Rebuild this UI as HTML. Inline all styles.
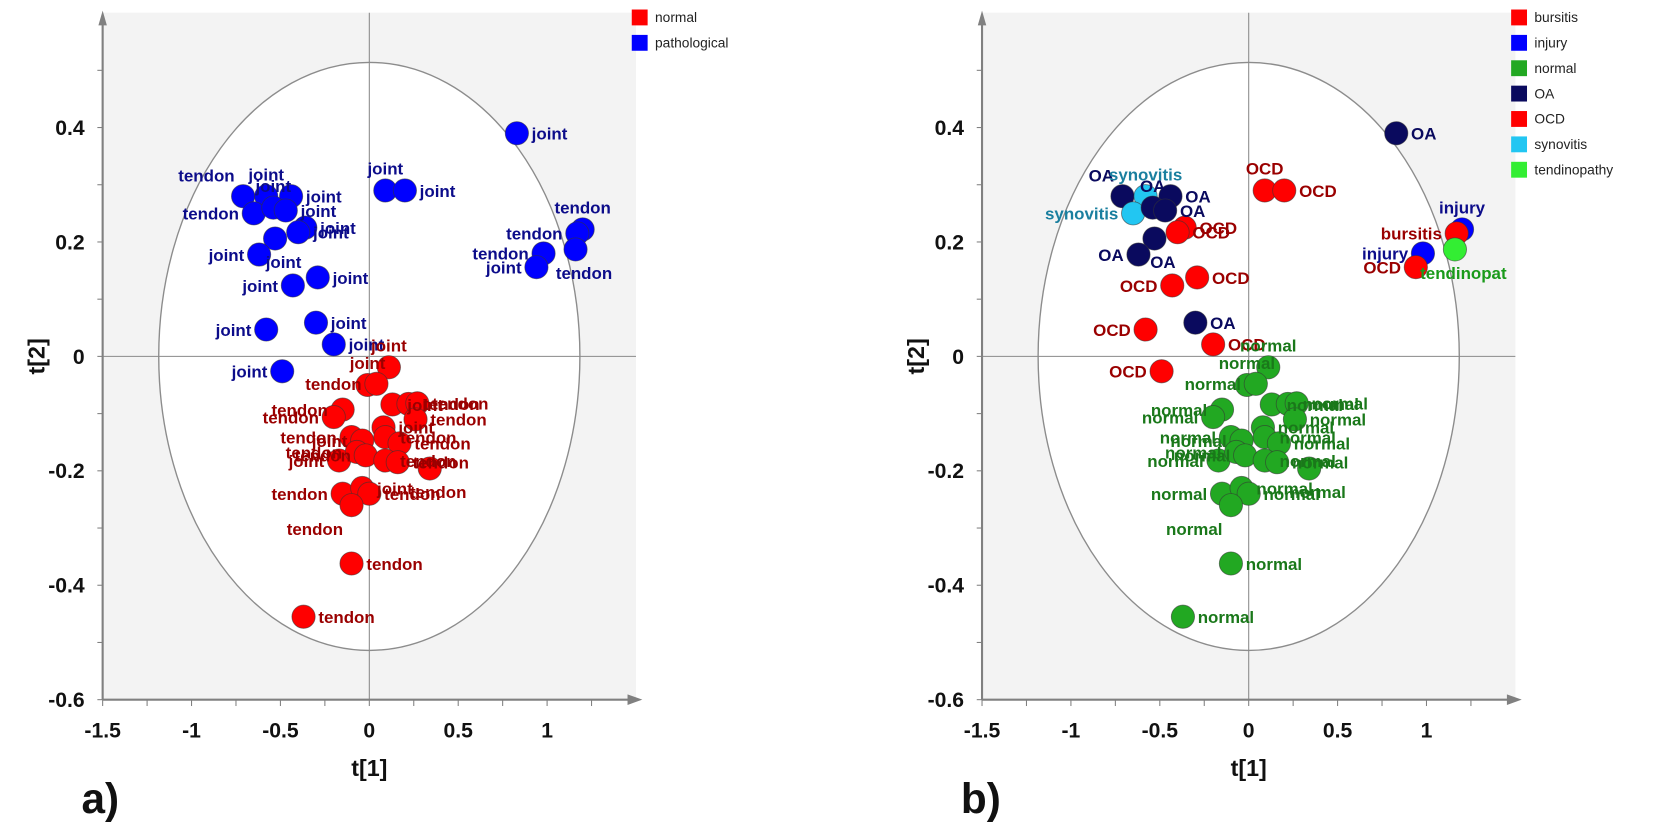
<!DOCTYPE html>
<html><head><meta charset="utf-8"><style>
html,body{margin:0;padding:0;background:#fff;}
svg{display:block;font-family:"Liberation Sans",sans-serif;}
</style></head><body>
<svg id="fig" width="1654" height="827" viewBox="0 0 1563 782" preserveAspectRatio="none"></svg>
<script>
// shared scores (t[1], t[2])
const t1 = [0.83,0.09,0.20,-0.71,-0.58,-0.44,-0.65,-0.54,-0.47,-0.36,-0.40,-0.53,-0.62,-0.29,-0.43,-0.30,-0.58,-0.20,1.20,1.17,1.16,0.98,0.94,-0.49,
 0.11,-0.01,0.04,-0.15,-0.20,0.13,0.22,0.27,0.26,0.08,0.09,-0.10,-0.04,0.17,-0.17,-0.07,-0.02,0.09,0.16,0.34,-0.15,-0.04,0.0,-0.10,-0.10,-0.37];
const t2 = [0.39,0.29,0.29,0.28,0.28,0.28,0.25,0.26,0.255,0.225,0.217,0.206,0.178,0.138,0.124,0.059,0.047,0.021,0.222,0.215,0.187,0.18,0.156,-0.026,
 -0.019,-0.05,-0.048,-0.093,-0.106,-0.084,-0.083,-0.082,-0.11,-0.124,-0.141,-0.141,-0.147,-0.152,-0.182,-0.167,-0.173,-0.182,-0.185,-0.196,-0.24,-0.23,-0.24,-0.26,-0.362,-0.455];
const groupA = ["pathological","pathological","pathological","pathological","pathological","pathological","pathological","pathological","pathological","pathological","pathological","pathological","pathological","pathological","pathological","pathological","pathological","pathological","pathological","pathological","pathological","pathological","pathological","pathological",
 "normal","normal","normal","normal","normal","normal","normal","normal","normal","normal","normal","normal","normal","normal","normal","normal","normal","normal","normal","normal","normal","normal","normal","normal","normal","normal"];
const tissue = ["joint","joint","joint","tendon","joint","joint","tendon","joint","joint","joint","joint","joint","joint","joint","joint","joint","joint","joint","tendon","tendon","tendon","tendon","joint","joint",
 "joint","joint","tendon","tendon","tendon","joint","tendon","tendon","tendon","joint","tendon","tendon","joint","tendon","joint","tendon","tendon","tendon","tendon","tendon","tendon","joint","tendon","tendon","tendon","tendon"];
const groupB = ["OA","OCD","OCD","OA","synovitis","OA","synovitis","OA","OA","OCD","OCD","OA","OA","OCD","OCD","OA","OCD","OCD","injury","bursitis","tendinopathy","injury","OCD","OCD",
 "normal","normal","normal","normal","normal","normal","normal","normal","normal","normal","normal","normal","normal","normal","normal","normal","normal","normal","normal","normal","normal","normal","normal","normal","normal","normal"];
const side = ["r","u","r","ul","u","r","l","u","r","r","r","d","l","r","l","r","l","r","u","l","d","l","l","l",
 "u","u","l","l","l","r","r","r","r","r","r","l","l","r","l","l","l","r","r","d","l","r","r","dl","r","r"];
const xTicks = [-1.5,-1,-0.5,0,0.5,1];
const yTicks = [0.4,0.2,0,-0.2,-0.4,-0.6];
const legendA = ["normal","pathological"];
const legendB = ["bursitis","injury","normal","OA","OCD","synovitis","tendinopathy"];

const fillA = {normal:"#ff0000",pathological:"#0000ff"};
const textA = {normal:"#9a0000",pathological:"#0c0c8a"};
const fillB = {bursitis:"#ff0000",injury:"#0000ff",normal:"#22a822",OA:"#0a0a5e",OCD:"#ff0000",synovitis:"#22c6f2",tendinopathy:"#33ee33"};
const textB = {bursitis:"#9a0000",injury:"#0c0c8a",normal:"#1a781a",OA:"#0a0a5e",OCD:"#9a0000",synovitis:"#1a7f9f",tendinopathy:"#1a9a1a"};
const shortB = {tendinopathy:"tendinopat"};

const NS="http://www.w3.org/2000/svg";
const svg=document.getElementById('fig');
function el(tag,attrs,parent){const e=document.createElementNS(NS,tag);for(const k in attrs)e.setAttribute(k,attrs[k]);(parent||svg).appendChild(e);return e;}

function panel(x0,pre,groups,fills,texts,labelFn,legend,letter){
  const X=v=>x0+168*v, Y=v=>337-541*v;
  const g=el('g',{});
  
  
  const left=X(-1.5), right=X(1.5), top=12, bot=Y(-0.6);
  const bg=el('rect',{x:left,y:top,width:right-left,height:bot-top,fill:'#f3f3f3'},g);
  
  
  const ell=el('ellipse',{cx:X(0),cy:Y(0),rx:199,ry:278,fill:'#fff',stroke:'#8c8c8c','stroke-width':1.3},g);
  
  
  el('line',{x1:X(0),y1:top,x2:X(0),y2:bot,stroke:'#8a8a8a','stroke-width':1},g);
  el('line',{x1:left,y1:Y(0),x2:right,y2:Y(0),stroke:'#8a8a8a','stroke-width':1},g);
  const ya=el('line',{x1:left,y1:bot,x2:left,y2:top+10,stroke:'#808080','stroke-width':2},g);
  
  
  el('polygon',{points:`${left-4},${top+12} ${left+4},${top+12} ${left},${top-2}`,fill:'#808080'},g);
  const xa=el('line',{x1:left,y1:bot,x2:right-6,y2:bot,stroke:'#808080','stroke-width':2},g);
  
  
  el('polygon',{points:`${right-8},${bot-5} ${right-8},${bot+5} ${right+6},${bot}`,fill:'#808080'},g);
  for(let v=-0.6;v<=0.51;v+=0.1){el('line',{x1:left-5,y1:Y(v),x2:left,y2:Y(v),stroke:'#808080'},g);}
  for(let v=-1.5;v<=1.3;v+=0.25){el('line',{x1:X(v),y1:bot,x2:X(v),y2:bot+6,stroke:'#808080'},g);}
  xTicks.forEach(v=>{const t=el('text',{x:X(v),y:bot+36,'text-anchor':'middle','font-size':20,'font-weight':'bold',fill:'#111'},g);t.textContent=String(v);
    
    });
  yTicks.forEach(v=>{const t=el('text',{x:left-17,y:Y(v)+7,'text-anchor':'end','font-size':20,'font-weight':'bold',fill:'#111'},g);t.textContent=String(v);
    
    });
  const xt=el('text',{x:X(0),y:bot+72,'text-anchor':'middle','font-size':22,'font-weight':'bold',fill:'#111'},g);xt.textContent='t[1]';
  
  
  const yt=el('text',{x:0,y:0,'text-anchor':'middle','font-size':22,'font-weight':'bold',fill:'#111',transform:`translate(${left-55},${Y(0)}) rotate(-90)`},g);yt.textContent='t[2]';
  
  
  const lt=el('text',{x:left-20,y:769,'font-size':40,'font-weight':'bold',fill:'#111'},g);lt.textContent=letter;
  
  
  for(let i=0;i<t1.length;i++){
    const c=el('circle',{cx:X(t1[i]),cy:Y(t2[i]),r:11,fill:fills[groups[i]],stroke:'#333','stroke-width':0.8,'stroke-opacity':0.6},g);
    
    
  }
  for(let i=0;i<t1.length;i++){
    const px=X(t1[i]),py=Y(t2[i]);let dx=14,dy=6,anc='start';
    const s=side[i];
    if(s==='l'){dx=-14;anc='end';} else if(s==='u'){dx=0;dy=-15;anc='middle';}
    else if(s==='d'){dx=8;dy=28;anc='middle';} else if(s==='ul'){dx=-8;dy=-14;anc='end';}
    else if(s==='dl'){dx=-8;dy=28;anc='end';}
    const t=el('text',{x:px+dx,y:py+dy,'text-anchor':anc,'font-size':16,'font-weight':'bold',fill:texts[groups[i]]},g);
    t.textContent=labelFn(i);
    
    
  }
  legend.forEach((name,k)=>{
    const lg=el('g',{},g);
    
    
    el('rect',{x:right-4,y:9+24*k,width:15,height:15,fill:fills[name]},lg);
    const t=el('text',{x:right+18,y:21+24*k,'font-size':13,fill:'#222'},lg);t.textContent=name;
  });
}
panel(349,'a-',groupA,fillA,textA,i=>tissue[i],legendA,'a)');
panel(1180,'b-',groupB,fillB,textB,i=>shortB[groupB[i]]||groupB[i],legendB,'b)');
</script>
</body></html>
